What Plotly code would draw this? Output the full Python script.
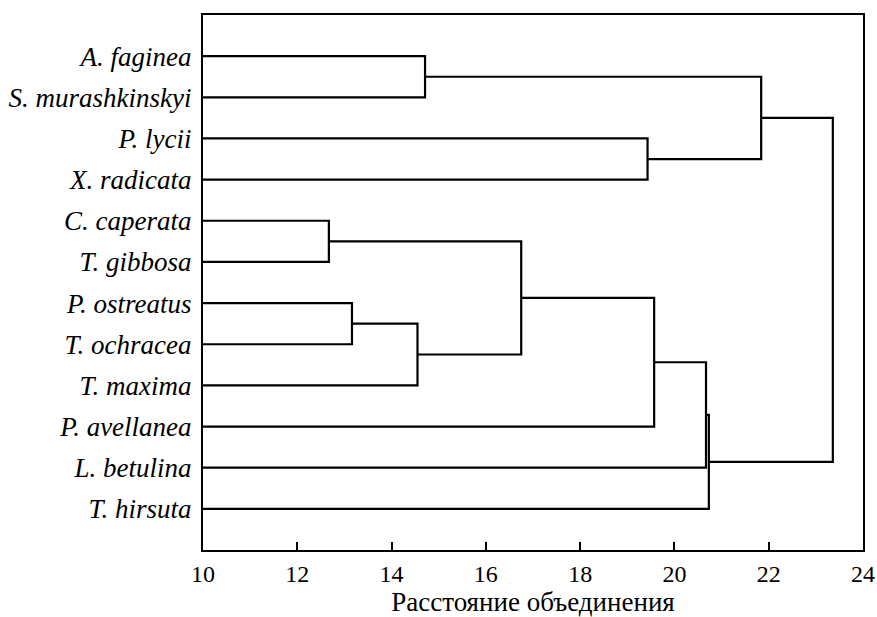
import plotly.graph_objects as go

labels = ["A. faginea", "S. murashkinskyi", "P. lycii", "X. radicata",
          "C. caperata", "T. gibbosa", "P. ostreatus", "T. ochracea",
          "T. maxima", "P. avellanea", "L. betulina", "T. hirsuta"]

# merges: node indices (0..11 leaves, 12+ new clusters) and linkage distance
merge_a = [0, 2, 12, 4, 6, 16, 15, 18, 19, 20, 14]
merge_b = [1, 3, 13, 5, 7, 8, 17, 9, 10, 11, 21]
merge_h = [14.71, 19.43, 21.84, 12.67, 13.16, 14.55, 16.75, 19.57, 20.67, 20.73, 23.36]

x_ticks = [10, 12, 14, 16, 18, 20, 22, 24]
x_min, x_max = 10, 24

SERIF = "Liberation Serif"

n = len(labels)
pos = {i: i + 1 for i in range(n)}
hgt = {i: x_min for i in range(n)}
xs, ys = [], []
for k, (a, b, h) in enumerate(zip(merge_a, merge_b, merge_h)):
    node = n + k
    xs += [hgt[a], h, h, hgt[b], None]
    ys += [pos[a], pos[a], pos[b], pos[b], None]
    pos[node] = (pos[a] + pos[b]) / 2
    hgt[node] = h

fig = go.Figure()
fig.add_trace(go.Scatter(x=xs, y=ys, mode="lines",
                         line=dict(color="black", width=2.2),
                         hoverinfo="skip", showlegend=False))

fig.update_layout(
    width=877, height=617,
    margin=dict(l=203, r=14, t=15, b=67, autoexpand=False),
    paper_bgcolor="white", plot_bgcolor="white",
    font=dict(family=SERIF, color="black"),
    xaxis=dict(range=[x_min, x_max], tickvals=x_ticks, ticks="inside", ticklen=8,
               tickwidth=1.5, tickcolor="black", showline=True, linecolor="black",
               linewidth=2, mirror=True, showgrid=False, zeroline=False,
               ticklabeloverflow="allow", ticklabelstandoff=1,
               tickfont=dict(size=24, family=SERIF),
               title=dict(text="Расстояние объединения", standoff=4,
                          font=dict(size=27, family=SERIF))),
    yaxis=dict(range=[13, 0], tickvals=list(range(1, n + 1)),
               ticktext=["<i>%s</i>" % s for s in labels], ticks="",
               showline=True, linecolor="black", linewidth=2, mirror=True,
               showgrid=False, zeroline=False, ticklabelstandoff=4,
               tickfont=dict(size=27, family=SERIF)),
)

fig.write_html("out.html",
               config={"displayModeBar": False},
               post_script="document.body.style.margin='0';document.body.style.overflow='hidden';")
